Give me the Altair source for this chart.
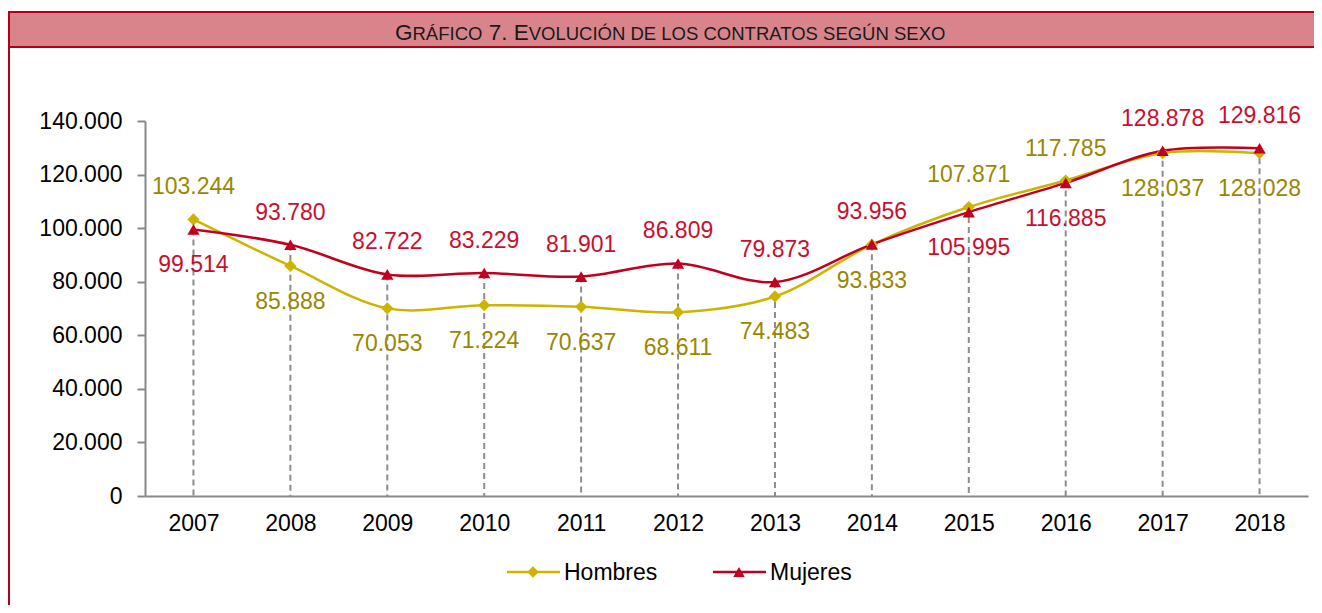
import altair as alt
import pandas as pd

years = ["2007", "2008", "2009", "2010", "2011", "2012", "2013", "2014", "2015", "2016", "2017", "2018"]
hombres = [103244, 85888, 70053, 71224, 70637, 68611, 74483, 93833, 107871, 117785, 128037, 128028]
mujeres = [99514, 93780, 82722, 83229, 81901, 86809, 79873, 93956, 105995, 116885, 128878, 129816]
series = ["Hombres", "Mujeres"]
y_ticks = [0, 20000, 40000, 60000, 80000, 100000, 120000, 140000]
# title in small caps: (text, is_big)
title_parts = [("G", True), ("RÁFICO", False), ("7.", True), ("E", True),
               ("VOLUCIÓN DE LOS CONTRATOS SEGÚN SEXO", False)]

line_colors = ["#CCB400", "#C0001E"]
label_colors = ["#9A8700", "#C8102E"]
shapes = ["diamond", "triangle-up"]
FONT = "Liberation Sans"
FS = 23

# Arial / Liberation Sans advance widths (em) for title layout
W = {"G": .778, "R": .722, "Á": .667, "A": .667, "F": .611, "I": .278, "C": .722, "O": .778,
     "Ó": .778, "7": .556, ".": .278, " ": .278, "E": .667, "V": .667, "L": .556, "U": .722,
     "Ú": .722, "N": .722, "D": .722, "S": .667, "T": .611, "X": .667}


def tw(s, size):
    return sum(W.get(c, .667) for c in s) * size


def fmt(v):
    return f"{v:,}".replace(",", ".")


wide = pd.DataFrame({"Año": years, "Hombres": hombres, "Mujeres": mujeres})
wide["top"] = wide[["Hombres", "Mujeres"]].max(axis=1)

rows = []
for s, other in (("Hombres", "Mujeres"), ("Mujeres", "Hombres")):
    for _, r in wide.iterrows():
        rows.append({
            "Año": r["Año"], "Serie": s, "value": r[s],
            "label": fmt(int(r[s])),
            "above": bool(r[s] > r[other]),
        })
long = pd.DataFrame(rows)

x = alt.X("Año:O", scale=alt.Scale(type="point", padding=0.5),
          axis=alt.Axis(title=None, labelAngle=0, ticks=False, domainColor="#888888",
                        domainWidth=2, labelFontSize=FS, labelFont=FONT, labelColor="#000000",
                        labelPadding=16))
y = alt.Y("value:Q", scale=alt.Scale(domain=[0, 140000], nice=False),
          axis=alt.Axis(title=None, values=y_ticks, grid=False, tickSize=8, tickColor="#888888",
                        tickWidth=2, domainColor="#888888", domainWidth=2, labelFontSize=FS,
                        labelFont=FONT, labelColor="#000000", labelPadding=15,
                        labelExpr="replace(format(datum.value, ',.0f'), ',', '.')"))
color = alt.Color("Serie:N", scale=alt.Scale(domain=series, range=line_colors), legend=None)

rules = alt.Chart(wide).mark_rule(strokeDash=[6, 4], color="#8c8c8c", strokeWidth=2).encode(
    x=x, y=alt.Y("top:Q"), y2=alt.datum(0)
)

lines = alt.Chart(long).mark_line(interpolate="catmull-rom", strokeWidth=2.5).encode(
    x=x, y=y, color=color
)

points = alt.Chart(long).mark_point(filled=True, opacity=1, size=150).encode(
    x=x, y=y, color=color,
    shape=alt.Shape("Serie:N", scale=alt.Scale(domain=series, range=shapes), legend=None)
)

lab_color = alt.Color("Serie:N", scale=alt.Scale(domain=series, range=label_colors), legend=None)
labels_above = alt.Chart(long).transform_filter("datum.above").mark_text(
    fontSize=FS, font=FONT, dy=-32, baseline="middle"
).encode(x=x, y=y, text="label:N", color=lab_color)
labels_below = alt.Chart(long).transform_filter("!datum.above").mark_text(
    fontSize=FS, font=FONT, dy=36, baseline="middle"
).encode(x=x, y=y, text="label:N", color=lab_color)

one = pd.DataFrame({"k": [0]})
title_bar = alt.Chart(one).mark_rect(fill="#D9848B", stroke="#B0001E", strokeWidth=2).encode(
    x=alt.value(-136), x2=alt.value(1200), y=alt.value(-109), y2=alt.value(-74)
)
left_border = alt.Chart(one).mark_rule(color="#B0001E", strokeWidth=2).encode(
    x=alt.value(-136), y=alt.value(-109), y2=alt.value(500)
)

BIG, SMALL = 22.5, 18.5
title_layers = []
cx = 250.0
for i, (txt, big) in enumerate(title_parts):
    size = BIG if big else SMALL
    title_layers.append(alt.Chart(pd.DataFrame({"t": [txt]})).mark_text(
        fontSize=size, font=FONT, color="#1a1a1a", baseline="alphabetic", align="left"
    ).encode(x=alt.value(round(cx, 1)), y=alt.value(-81), text="t:N"))
    cx += tw(txt, size)
    if txt in ("RÁFICO", "7."):
        cx += W[" "] * BIG

legend_layers = []
for i, name in enumerate(series):
    bx = 362 + i * 206
    d = pd.DataFrame({"name": [name]})
    legend_layers.append(alt.Chart(d).mark_rule(color=line_colors[i], strokeWidth=2.5).encode(
        x=alt.value(bx), x2=alt.value(bx + 53), y=alt.value(451)))
    legend_layers.append(alt.Chart(d).mark_point(filled=True, opacity=1, size=130,
                                                  shape=shapes[i], color=line_colors[i]).encode(
        x=alt.value(bx + 26), y=alt.value(451)))
    legend_layers.append(alt.Chart(d).mark_text(fontSize=FS, font=FONT, align="left",
                                                baseline="middle", color="#000000").encode(
        x=alt.value(bx + 57), y=alt.value(452), text="name:N"))

chart = alt.layer(
    title_bar, left_border, *title_layers, rules, lines, points, labels_above, labels_below,
    *legend_layers
).resolve_scale(color="independent").properties(
    width=1163, height=375,
    autosize=alt.AutoSizeParams(type="none"),
    padding={"left": 137, "top": 113, "right": 6, "bottom": 109},
    background="white",
).configure_view(stroke=None)

chart.save("out.html", embed_options={"renderer": "svg", "actions": False})
